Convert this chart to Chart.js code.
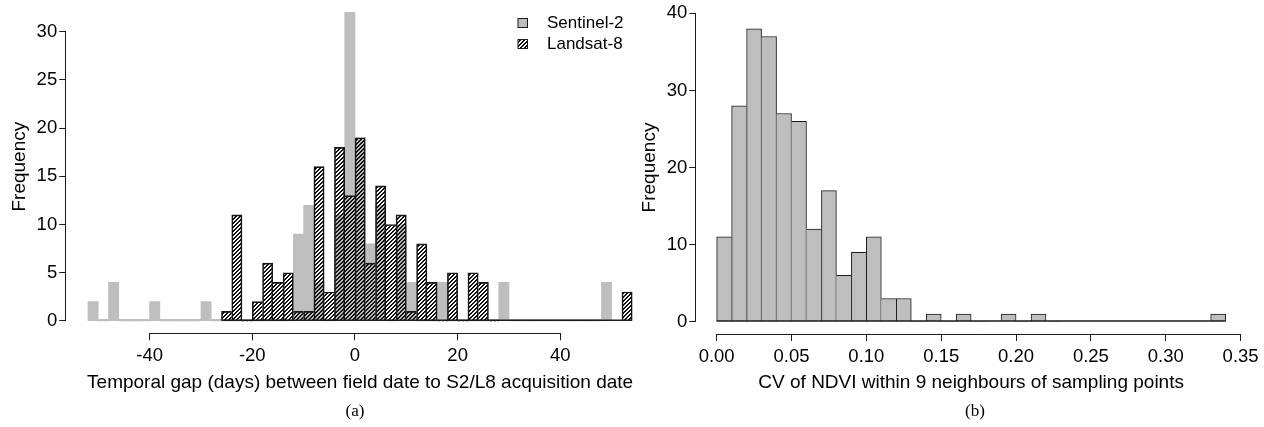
<!DOCTYPE html>
<html>
<head>
<meta charset="utf-8">
<script src="https://cdn.jsdelivr.net/npm/chart.js@4.4.1/dist/chart.umd.min.js"></script>
<style>
  html, body { margin: 0; padding: 0; background: #fff; }
  #wrap { position: relative; width: 1264px; height: 427px; overflow: hidden; }
  canvas { position: absolute; top: 0; }
  #chartA { left: 0; }
  #chartB { left: 630px; }
  .caption { position: absolute; top: 401px; line-height: 20px; font-size: 17px;
             font-family: 'Liberation Serif', 'Times New Roman', serif; transform: translateX(-50%); }
</style>
</head>
<body>
<div id="wrap">
  <canvas id="chartA" width="662" height="427"></canvas>
  <canvas id="chartB" width="634" height="427"></canvas>
  <div class="caption" style="left:355px">(a)</div>
  <div class="caption" style="left:975px">(b)</div>
</div>
<script>
// (a) temporal gap, 2-day bins given by their mid points
const s2Mid = [-51, -49, -47, -45, -43, -41, -39, -37, -35, -33, -31, -29, -27, -25, -23, -21, -19, -17, -15, -13,
  -11, -9, -7, -5, -3, -1, 1, 3, 5, 7, 9, 11, 13, 15, 17, 19, 21, 23, 25, 27, 29, 31, 33, 35, 37, 39, 41, 43, 45, 47, 49];
const s2Freq = [2, 0, 4, 0, 0, 0, 2, 0, 0, 0, 0, 2, 0, 0, 0, 0, 0, 0, 0, 0,
  9, 12, 4, 0, 11, 32, 19, 8, 12, 0, 10, 4, 0, 0, 4, 0, 0, 0, 0, 0, 4, 0, 0, 0, 0, 0, 0, 0, 0, 0, 4];
const l8Mid = [-25, -23, -21, -19, -17, -15, -13, -11, -9, -7, -5, -3, -1, 1, 3, 5, 7, 9, 11, 13,
  15, 17, 19, 21, 23, 25, 27, 29, 31, 33, 35, 37, 39, 41, 43, 45, 47, 49, 51, 53];
const l8Freq = [1, 11, 0, 2, 6, 4, 5, 1, 1, 16, 3, 18, 13, 19, 6, 14, 10, 11, 1, 8,
  4, 0, 5, 0, 5, 4, 0, 0, 0, 0, 0, 0, 0, 0, 0, 0, 0, 0, 0, 3];
const gapTicks = [-40, -20, 0, 20, 40];
const freqTicksA = [0, 5, 10, 15, 20, 25, 30];

// (b) CV of NDVI, 0.01 bins given by their mid points
const cvMid = [0.005, 0.015, 0.025, 0.035, 0.045, 0.055, 0.065, 0.075, 0.085, 0.095, 0.105, 0.115,
  0.125, 0.135, 0.145, 0.155, 0.165, 0.175, 0.185, 0.195, 0.205, 0.215, 0.225, 0.235, 0.245,
  0.255, 0.265, 0.275, 0.285, 0.295, 0.305, 0.315, 0.325, 0.335];
const cvFreq = [11, 28, 38, 37, 27, 26, 12, 17, 6, 9, 11, 3, 3, 0, 1, 0, 1, 0, 0, 1, 0, 1,
  0, 0, 0, 0, 0, 0, 0, 0, 0, 0, 0, 1];
const cvTicks = [0, 0.05, 0.10, 0.15, 0.20, 0.25, 0.30, 0.35];
const freqTicksB = [0, 10, 20, 30, 40];

const FONT = "'Liberation Sans', Arial, sans-serif";
const tickFont = { family: FONT, size: 18.5 };
const titleFont = { family: FONT, size: 19 };
const INK = '#1a1a1a';

// diagonal "////" fill, transparent between the lines
function hatchPattern() {
  const c = document.createElement('canvas');
  c.width = 4; c.height = 4;
  const g = c.getContext('2d');
  g.fillStyle = '#111';
  for (let x = 0; x < 4; x++) {
    for (let y = 0; y < 4; y++) {
      const k = (x + y) % 4;
      if (k === 3 || k === 0) g.fillRect(x, y, 1, 1);
    }
  }
  return g.createPattern(c, 'repeat');
}

// each shared edge is drawn once, by the taller bar
function edges(ctx) {
  const d = ctx.dataset.data, i = ctx.dataIndex;
  const v = d[i].y;
  const prev = i > 0 ? d[i - 1].y : 0;
  const next = i < d.length - 1 ? d[i + 1].y : 0;
  return { top: 1, bottom: 0, left: prev <= v ? 1 : 0, right: next < v ? 1 : 0 };
}

const pts = (mids, freqs) => mids.map((m, i) => ({ x: m, y: freqs[i] }));

// R style axis: the line only runs from first to last tick
const rAxisLines = {
  id: 'rAxisLines',
  afterDraw(chart) {
    const { ctx, chartArea, scales } = chart;
    const x = scales.x, y = scales.y;
    ctx.save();
    ctx.strokeStyle = INK;
    ctx.lineWidth = 1;
    ctx.beginPath();
    const yb = Math.round(chartArea.bottom) + 0.5;
    ctx.moveTo(x.getPixelForValue(x.ticks[0].value), yb);
    ctx.lineTo(x.getPixelForValue(x.ticks[x.ticks.length - 1].value), yb);
    const xl = Math.round(chartArea.left) - 0.5;
    ctx.moveTo(xl, y.getPixelForValue(y.ticks[0].value));
    ctx.lineTo(xl, y.getPixelForValue(y.ticks[y.ticks.length - 1].value));
    ctx.stroke();
    ctx.restore();
  }
};

// empty bins of a histogram still show as a line along zero
const zeroLines = {
  id: 'zeroLines',
  afterDatasetDraw(chart, args) {
    const ds = chart.data.datasets[args.index];
    const d = ds.data;
    const half = (d[1].x - d[0].x) / 2;
    const x = chart.scales.x, y = chart.scales.y;
    const { ctx } = chart;
    ctx.save();
    ctx.strokeStyle = ds.baseColor;
    ctx.lineWidth = ds.baseWidth;
    ctx.beginPath();
    const y0 = y.getPixelForValue(0) - ds.baseWidth / 2;
    ctx.moveTo(x.getPixelForValue(d[0].x - half), y0);
    ctx.lineTo(x.getPixelForValue(d[d.length - 1].x + half), y0);
    ctx.stroke();
    ctx.restore();
  }
};

const legendBox = {
  id: 'legendBox',
  afterDraw(chart) {
    const { ctx, chartArea } = chart;
    const bx = chartArea.right - 136, tx = chartArea.right - 107;
    const rows = [
      { label: 'Sentinel-2', fill: '#bebebe', y: 18.5 },
      { label: 'Landsat-8', fill: chart.data.datasets[1].backgroundColor, y: 39.5 }
    ];
    ctx.save();
    ctx.font = '17px ' + FONT;
    ctx.textBaseline = 'alphabetic';
    rows.forEach(r => {
      ctx.fillStyle = r.fill;
      ctx.fillRect(bx, r.y, 9.5, 9);
      ctx.strokeStyle = INK;
      ctx.lineWidth = 1;
      ctx.strokeRect(bx, r.y, 9.5, 9);
      ctx.fillStyle = '#000';
      ctx.fillText(r.label, tx, r.y + 9.3);
    });
    ctx.restore();
  }
};

function axisX(min, max, ticks, fmt, title, height) {
  return {
    type: 'linear', min, max,
    offset: false,
    afterBuildTicks: s => { s.ticks = ticks.map(v => ({ value: v })); },
    afterFit: s => { s.height = height; s.paddingLeft = 0; s.paddingRight = 0; },
    grid: { offset: false, drawOnChartArea: false, drawTicks: true, tickLength: 7, color: INK },
    border: { display: false },
    ticks: { font: tickFont, color: '#000', padding: 5, maxRotation: 0, autoSkip: false, callback: fmt },
    title: { display: true, text: title, font: titleFont, color: '#000', padding: 0 }
  };
}

function axisY(min, max, ticks, width) {
  return {
    min, max,
    afterBuildTicks: s => { s.ticks = ticks.map(v => ({ value: v })); },
    afterFit: s => { s.width = width; s.paddingTop = 0; s.paddingBottom = 0; },
    grid: { drawOnChartArea: false, drawTicks: true, tickLength: 7, color: INK },
    border: { display: false },
    ticks: { font: tickFont, color: '#000', padding: 2, autoSkip: false, callback: v => String(v) },
    title: { display: true, text: 'Frequency', font: titleFont, color: '#000', padding: { top: 8, bottom: 0 } }
  };
}

const common = {
  responsive: false,
  animation: false,
  devicePixelRatio: 1,
  plugins: { legend: { display: false }, tooltip: { enabled: false } }
};

new Chart(document.getElementById('chartA'), {
  type: 'bar',
  data: {
    datasets: [
      {
        label: 'Sentinel-2',
        data: pts(s2Mid, s2Freq),
        backgroundColor: '#bebebe',
        borderWidth: 0,
        baseColor: '#bebebe', baseWidth: 2,
        order: 2
      },
      {
        label: 'Landsat-8',
        data: pts(l8Mid, l8Freq),
        backgroundColor: hatchPattern(),
        borderColor: INK,
        borderWidth: edges,
        borderSkipped: false,
        baseColor: INK, baseWidth: 1.5,
        order: 1
      }
    ]
  },
  options: {
    ...common,
    grouped: false,
    barPercentage: 1,
    categoryPercentage: 1,
    layout: { padding: { left: 0, right: 8, top: 0, bottom: 33 } },
    scales: {
      x: axisX(-56.24, 58.24, gapTicks, v => String(v),
        'Temporal gap (days) between field date to S2/L8 acquisition date', 60.7),
      y: axisY(-1.28, 33.28, freqTicksA, 66.2)
    }
  },
  plugins: [zeroLines, rAxisLines, legendBox]
});

new Chart(document.getElementById('chartB'), {
  type: 'bar',
  data: {
    datasets: [{
      label: 'CV',
      data: pts(cvMid, cvFreq),
      backgroundColor: '#bebebe',
      borderColor: INK,
      borderWidth: edges,
      borderSkipped: false,
      baseColor: INK, baseWidth: 1.5
    }]
  },
  options: {
    ...common,
    barPercentage: 1,
    categoryPercentage: 1,
    layout: { padding: { left: 0, right: 18, top: 1, bottom: 33 } },
    scales: {
      x: axisX(-0.0136, 0.3536, cvTicks, v => v.toFixed(2),
        'CV of NDVI within 9 neighbours of sampling points', 60),
      y: axisY(-1.6, 41.6, freqTicksB, 66.3)
    }
  },
  plugins: [zeroLines, rAxisLines]
});
</script>
</body>
</html>
